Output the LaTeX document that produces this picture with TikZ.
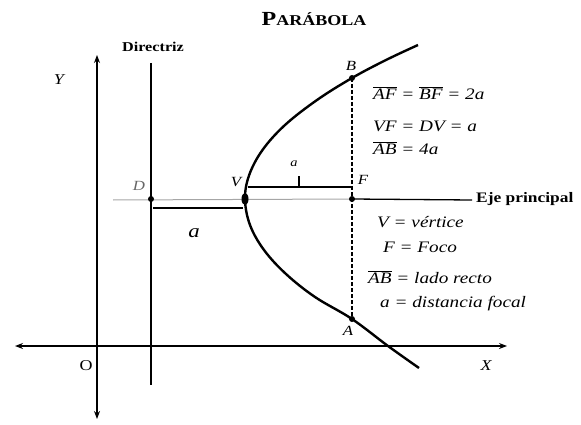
\documentclass[tikz,border=0pt]{standalone}
\usepackage{fontspec}
\setmainfont{Liberation Serif}[FakeStretch=1.2]
\usetikzlibrary{arrows.meta,shapes.geometric}
\newcommand{\fsz}[1]{\fontsize{#1}{#1}\selectfont}
\newcommand{\olseg}[1]{$\overline{\hbox{\itshape #1}}$}
\tikzset{
  axisline/.style={line width=1.3pt, black},
  dirline/.style={line width=1.3pt, black},
  curveline/.style={line width=2.4pt, black},
  faintaxis/.style={line width=1pt, black!35},
  mainaxis/.style={line width=1.3pt, black},
  bracketline/.style={line width=1.2pt, black},
  dashline/.style={line width=1.2pt, black, dash pattern=on 4pt off 2pt},
  ptdot/.style={circle, fill=black, inner sep=0pt, minimum size=6pt},
  vdot/.style={ellipse, fill=black, inner sep=0pt, minimum width=7pt, minimum height=12pt},
  lab/.style={inner sep=0pt, font=\fsz{14}\itshape},
  txt/.style={inner sep=0pt, anchor=west, font=\fsz{16}\itshape},
  ttl/.style={inner sep=0pt, font=\bfseries},
}
\begin{document}
\begin{tikzpicture}[x=1pt,y=-1pt]
\useasboundingbox (0,0) rectangle (581,425);
% axes
\coordinate (ytop) at (97,55);
\coordinate (ybot) at (97,419);
\coordinate (xleft) at (15,346);
\coordinate (xright) at (507,346);
\draw[axisline,{Stealth[length=8pt,width=6pt]}-{Stealth[length=8pt,width=6pt]}] (xleft) -- (xright);
\draw[axisline,{Stealth[length=8pt,width=6pt]}-{Stealth[length=8pt,width=6pt]}] (ybot) -- (ytop);
% directrix
\coordinate (dtop) at (151,63);
\coordinate (dbot) at (151,385);
\draw[dirline] (dtop) -- (dbot);
% key points
\coordinate (Dp) at (151,199);
\coordinate (Vp) at (245,199);
\coordinate (Fp) at (352,199);
\coordinate (Bp) at (352,78);
\coordinate (Ap) at (352,319);
\coordinate (axl) at (113,200);
\coordinate (axr) at (472,200);
% principal axis
\draw[faintaxis] (axl) -- (Fp);
\draw[mainaxis] (Fp) -- (axr);
% parabola
\draw[curveline] plot[smooth, tension=0.6] coordinates {
 (418,45) (386,60) (352,78) (317,100) (285,125) (262.5,150) (249.2,175) (245,199)
 (250,225) (264,250) (286,274) (315,297) (352,319) (388,346) (419,368)};
% latus rectum
\draw[dashline] (Bp) -- (Ap);
% brackets
\coordinate (b1l) at (153,208);
\coordinate (b1r) at (243,208);
\draw[bracketline] (b1l) -- (b1r);
\coordinate (b2l) at (248,187);
\coordinate (b2r) at (351,187);
\coordinate (tickb) at (299,187);
\coordinate (ticka) at (299,176);
\draw[bracketline] (b2l) -- (b2r);
\draw[bracketline] (tickb) -- (ticka);
% dots
\node[ptdot] (dotD) at (Dp) {};
\node[vdot] (dotV) at (Vp) {};
\node[ptdot] (dotF) at (Fp) {};
\node[ptdot] (dotB) at (Bp) {};
\node[ptdot] (dotA) at (Ap) {};
% point labels
\node[lab, text=black!60] (labD) at (139,186) {D};
\node[lab] (labV) at (236,182) {V};
\node[lab] (labF) at (363,180) {F};
\node[lab] (labB) at (351,66) {B};
\node[lab] (labA) at (348,331) {A};
\node[lab, font=\fsz{12}\itshape] (laba1) at (294,164) {a};
\node[lab, font=\fsz{19}\itshape] (laba2) at (194,233) {a};
% axis labels
\node[lab, font=\fsz{15}\itshape] (labY) at (59,80) {Y};
\node[lab, font=\fsz{15}\itshape] (labX) at (486,366) {X};
\node[lab, font=\fsz{15}] (labO) at (86,366) {O};
% titles
\node[ttl] (title) at (314,19) {\fsz{20}P\fsz{15}ARÁBOLA};
\node[ttl, font=\fsz{13.5}\bfseries] (dirlab) at (153,47) {Directriz};
\node[ttl, anchor=west, font=\fsz{14.5}\bfseries] (ejelab) at (476,199) {Eje principal};
% formulas
\node[txt] (f1) at (373,93) {\olseg{AF} = \olseg{BF} = 2a};
\node[txt] (f2) at (373,126) {VF = DV = a};
\node[txt] (f3) at (373,148) {\olseg{AB} = 4a};
% legend
\node[txt] (l1) at (377,222) {V = vértice};
\node[txt] (l2) at (383,247) {F = Foco};
\node[txt] (l3) at (368,277) {\olseg{AB} = lado recto};
\node[txt] (l4) at (380,304) {a = distancia focal};
\end{tikzpicture}
\end{document}
